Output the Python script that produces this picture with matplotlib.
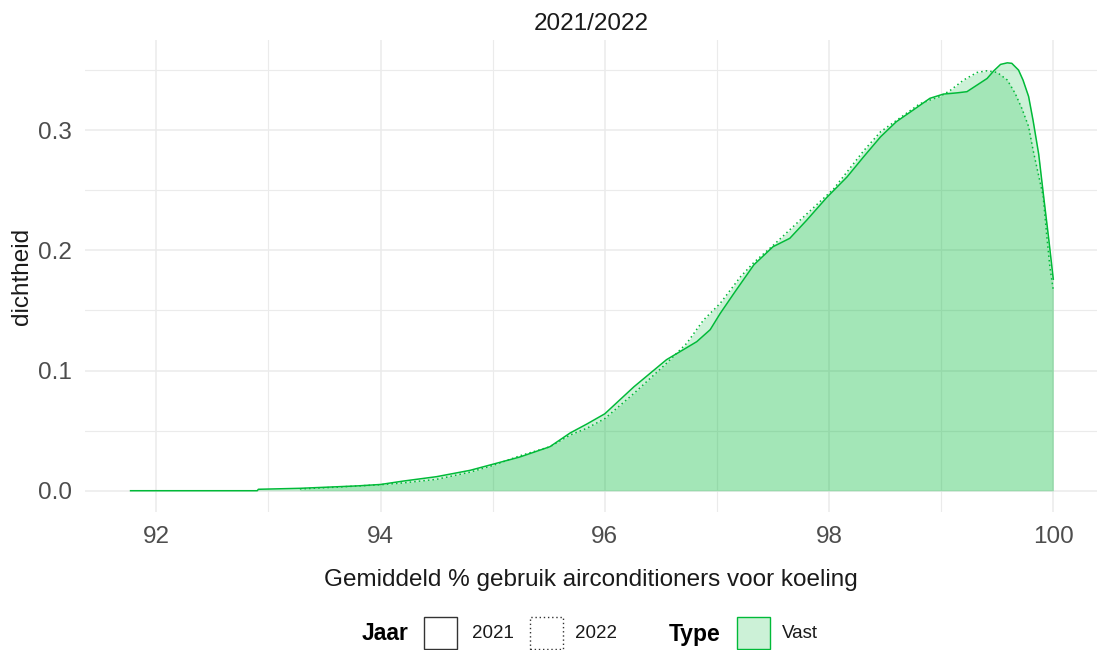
import matplotlib
matplotlib.use('Agg')
import matplotlib.pyplot as plt
from matplotlib.patches import Rectangle

plt.rcParams['font.family'] = ['Liberation Sans', 'DejaVu Sans']

# Dichtheid 2021 (doorgetrokken lijn)
x_2021 = [91.77, 92.90, 92.91, 93.28, 93.79, 94.0, 94.2, 94.5, 94.8, 95.0, 95.24,
          95.51, 95.69, 95.84, 96.0, 96.26, 96.55, 96.82, 96.94, 97.03, 97.15, 97.33,
          97.50, 97.65, 97.80, 97.98, 98.16, 98.31, 98.46, 98.60, 98.75, 98.90, 99.02,
          99.14, 99.23, 99.32, 99.41, 99.47, 99.53, 99.59, 99.63, 99.69, 99.73, 99.78,
          99.82, 99.87, 99.91, 99.96, 100.0]
y_2021 = [0.0, 0.0, 0.0012, 0.002, 0.004, 0.0052, 0.008, 0.0117, 0.017, 0.022, 0.028,
          0.0366, 0.048, 0.0555, 0.064, 0.0865, 0.109, 0.124, 0.134, 0.1476, 0.164, 0.188,
          0.203, 0.21, 0.225, 0.244, 0.261, 0.278, 0.2945, 0.307, 0.3167, 0.3265, 0.330,
          0.331, 0.332, 0.3375, 0.343, 0.3494, 0.3547, 0.356, 0.3556, 0.350, 0.3417, 0.328,
          0.308, 0.28, 0.248, 0.209, 0.176]

# Dichtheid 2022 (gestippelde lijn)
x_2022 = [93.28, 93.61, 94.0, 94.2, 94.5, 94.8, 95.0, 95.24, 95.51, 95.69, 95.84, 96.0,
          96.26, 96.55, 96.73, 96.88, 97.03, 97.21, 97.33, 97.50, 97.74, 98.04, 98.31,
          98.46, 98.60, 98.81, 98.99, 99.08, 99.20, 99.32, 99.41, 99.50, 99.59, 99.66,
          99.72, 99.78, 99.82, 99.87, 99.91, 99.94, 99.97, 100.0]
y_2022 = [0.0015, 0.003, 0.005, 0.0065, 0.0095, 0.0155, 0.021, 0.029, 0.0366, 0.0463,
          0.052, 0.06, 0.081, 0.106, 0.1226, 0.142, 0.156, 0.178, 0.19, 0.204, 0.225,
          0.251, 0.283, 0.2987, 0.308, 0.322, 0.328, 0.333, 0.3417, 0.348, 0.3494, 0.348,
          0.3417, 0.3306, 0.318, 0.303, 0.2834, 0.262, 0.245, 0.214, 0.186, 0.167]

x_ticks = [92, 94, 96, 98, 100]
x_minor = [93, 95, 97, 99]
y_ticks = [0.0, 0.1, 0.2, 0.3]
y_minor = [0.05, 0.15, 0.25, 0.35]

groen = '#00BA38'
W, H = 1097, 650

fig = plt.figure(figsize=(W / 100, H / 100), dpi=100)
ax = fig.add_axes([84.6 / W, (H - 512) / H, (W - 84.6) / W, 472 / H])

# Vlakken en lijnen
ax.fill_between(x_2021, y_2021, 0, color=groen, alpha=0.2, linewidth=0, zorder=2)
ax.fill_between(x_2022, y_2022, 0, color=groen, alpha=0.2, linewidth=0, zorder=2)
ax.plot(x_2021, y_2021, color=groen, linewidth=1.1, linestyle='-', zorder=3)
ax.plot(x_2022, y_2022, color=groen, linewidth=1.1, linestyle=(0, (1, 2)), zorder=3)

ax.set_xlim(91.36, 100.39)
ax.set_ylim(-0.0177, 0.375)
ax.set_xticks(x_ticks)
ax.set_xticklabels([str(t) for t in x_ticks])
ax.set_xticks(x_minor, minor=True)
ax.set_yticks(y_ticks)
ax.set_yticklabels(['%.1f' % t for t in y_ticks])
ax.set_yticks(y_minor, minor=True)

ax.grid(True, which='major', color='#EBEBEB', linewidth=1.1, zorder=0)
ax.grid(True, which='minor', color='#EBEBEB', linewidth=0.8, zorder=0)
ax.set_axisbelow(True)
for s in ax.spines.values():
    s.set_visible(False)
ax.tick_params(which='both', length=0, labelsize=17.5, labelcolor='#4D4D4D')
ax.tick_params(axis='x', pad=10)
ax.tick_params(axis='y', pad=9)

ax.set_title('2021/2022', fontsize=17.5, color='#1A1A1A', pad=7)
ax.set_xlabel('Gemiddeld % gebruik airconditioners voor koeling', fontsize=17.5,
              color='#1A1A1A', labelpad=15)
ax.set_ylabel('dichtheid', fontsize=17.5, color='#1A1A1A', labelpad=4)

# Legenda onderaan
def box(x0, x1, y0, y1, **kw):
    fig.add_artist(Rectangle((x0 / W, 1 - y1 / H), (x1 - x0) / W, (y1 - y0) / H,
                             transform=fig.transFigure, **kw))

ly = 1 - 634 / H
fig.text(361.7 / W, ly, 'Jaar', fontsize=16.5, fontweight='bold', va='center', ha='left')
box(424, 457, 617, 649, facecolor='white', edgecolor='#333333', linewidth=1.0)
fig.text(471.7 / W, ly, '2021', fontsize=13.5, color='#1A1A1A', va='center', ha='left')
box(530, 563, 617, 649, facecolor='white', edgecolor='#333333', linewidth=1.0,
    linestyle=(0, (1, 2)))
fig.text(575 / W, ly, '2022', fontsize=13.5, color='#1A1A1A', va='center', ha='left')
fig.text(668.3 / W, ly, 'Type', fontsize=16.5, fontweight='bold', va='center', ha='left')
box(737, 770, 617, 649, facecolor=(0, 0.729, 0.22, 0.2), edgecolor=groen, linewidth=1.0)
fig.text(781.7 / W, ly, 'Vast', fontsize=13.5, color='#1A1A1A', va='center', ha='left')

fig.savefig('out.png', dpi=100)
